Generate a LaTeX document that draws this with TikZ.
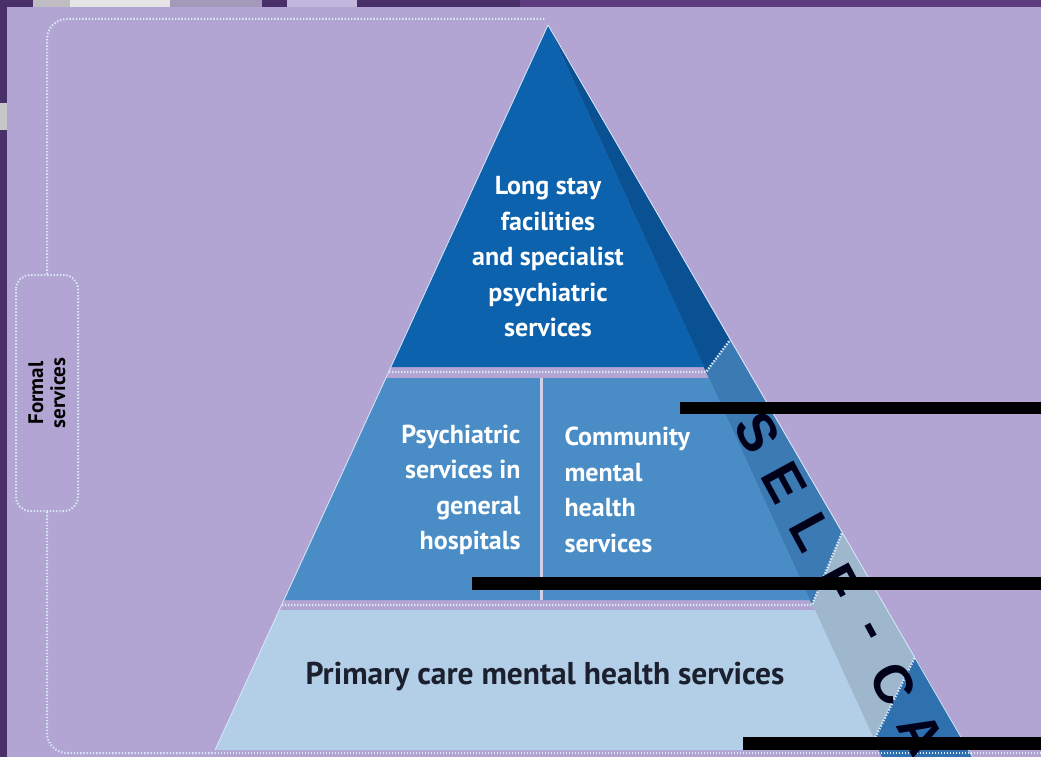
\documentclass[tikz,border=0pt]{standalone}
\usepackage{fontspec}
\setmainfont{PT Sans}
\newfontfamily\selffont{Liberation Sans}

\definecolor{bgpurple}{HTML}{B3A5D3}
\definecolor{framepurple}{HTML}{4A3068}
\definecolor{toppurple}{HTML}{5D3C80}
\definecolor{topfront}{HTML}{0C62AC}
\definecolor{topside}{HTML}{0A5193}
\definecolor{midfront}{HTML}{4A8DC6}
\definecolor{midside}{HTML}{3C7AB3}
\definecolor{lowfront}{HTML}{B3CFE7}
\definecolor{lowside}{HTML}{9EB7CC}
\definecolor{baseside}{HTML}{2F70AE}
\definecolor{dotblue}{HTML}{D8E8F8}
\definecolor{darktext}{HTML}{1B1F2E}

\tikzset{
  sep/.style={draw=dotblue, line width=2.4pt, dash pattern=on 1.4pt off 1.6pt},
  bracket/.style={draw=dotblue, line width=2pt, dash pattern=on 1.4pt off 1.8pt},
  lighttext/.style={text=white, font=\fontsize{26}{35.5}\selectfont\bfseries},
  selfletter/.style={rotate=-61.5, text=black!90!blue,
    font=\selffont\bfseries\fontsize{54}{54}\selectfont},
  bar/.style={fill=black},
}

\begin{document}
\begin{tikzpicture}[x=1pt,y=-1pt]
\useasboundingbox (0,0) rectangle (1041,757);
\clip (0,0) rectangle (1041,757);
\fill[bgpurple] (0,0) rectangle (1041,757);

% frame of the slide
\fill[toppurple]   (0,0)   rectangle (1041,7);
\fill[framepurple] (0,0)   rectangle (520,7);
\fill[framepurple] (0,0)   rectangle (7,757);
\fill[black!20!white,opacity=.9] (33,0) rectangle (70,7);
\fill[black!10!white]            (70,0) rectangle (170,7);
\fill[bgpurple!70!gray]          (170,0) rectangle (262,7);
\fill[bgpurple!80!white]         (287,0) rectangle (357,7);
\fill[black!22!white]            (0,103) rectangle (7,130);

% side face
\fill[topside]  (548,25)  -- (730,340) -- (706,372) -- cycle;
\fill[midside]  (706,372) -- (730,340) -- (842,533) -- (812,605) -- cycle;
\fill[lowside]  (812,605) -- (842,533) -- (915,657) -- (874,740) -- cycle;
\fill[baseside] (874,740) -- (915,657) -- (980,770) -- (888,770) -- cycle;

% front face
\fill[topfront] (548,25)  -- (391,367) -- (704,367) -- cycle;
\fill[midfront] (386,378) -- (284,600) -- (810,600) -- (709,378) -- cycle;
\fill[lowfront] (279,610) -- (215,750) -- (879,750) -- (815,610) -- cycle;
\draw[line width=3pt,bgpurple!55!white] (541,378) -- (541,600);

\draw[dotblue,line width=.8pt] (548,25) -- (215,750);
\draw[dotblue,line width=.8pt] (548,25) -- (980,770);
\draw[sep] (389,372) -- (706,372) -- (730,340);
\draw[sep] (282,605) -- (812,605) -- (842,533);
\draw[sep] (874,740) -- (915,657);
\draw[sep] (215,753) -- (1041,753);

% labels
\node(longstay)  at (548,257) [lighttext,align=center]
  {Long stay\\facilities\\and specialist\\psychiatric\\services};
\node(hospitals) at (524,490) [lighttext,align=right,anchor=east]
  {Psychiatric\\services in\\general\\hospitals};
\node(community) at (561,490) [lighttext,align=left,anchor=west]
  {Community\\mental\\health\\services};
\node(primary)   at (545,677) [text=darktext,font=\fontsize{31.5}{35}\selectfont\bfseries]
  {Primary care mental health services};

% formal services bracket
\node(formal) at (47,393) [bracket,rounded corners=14pt,rotate=90,
  minimum width=236pt,minimum height=62pt,align=center,
  font=\fontsize{21}{22}\selectfont\bfseries] {Formal\\services};
\draw[bracket,rounded corners=20pt] (formal.east) |- (545,19);
\draw[bracket,rounded corners=20pt] (formal.west) |- (215,753);

% self-care along the side
\foreach \ch [count=\i from 0] in {S,E,L,F,-,C,A}
  \node(self\i) at (757+27.3*\i,432+50.3*\i) [selfletter] {\ch};

% black bars
\fill[bar] (680,402) rectangle (1041,414);
\fill[bar] (472,577) rectangle (1041,590);
\fill[bar] (743,737) rectangle (1041,750);
\end{tikzpicture}
\end{document}
